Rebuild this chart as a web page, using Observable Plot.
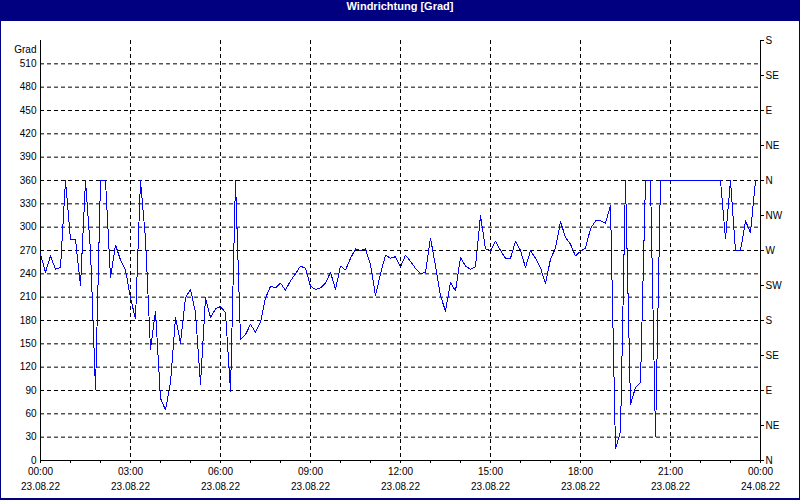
<!DOCTYPE html>
<html><head><meta charset="utf-8">
<script src="https://cdn.jsdelivr.net/npm/d3@7"></script>
<script src="https://cdn.jsdelivr.net/npm/@observablehq/plot@0.6"></script>
<style>
html,body{margin:0;padding:0;background:#fff;}
#frame{position:relative;width:800px;height:500px;background:#000080;overflow:hidden;}
#title{position:absolute;left:0;top:0;width:800px;height:21px;line-height:21px;text-align:center;color:#fff;font:bold 11px "Liberation Sans",Arial,sans-serif;}
#chart{position:absolute;left:1px;top:21px;width:798px;height:477px;background:#fff;}
#chart svg{display:block;}
</style></head><body>
<div id="frame"><div id="title">Windrichtung [Grad]</div><div id="chart"></div></div>
<script>
const title = "Windrichtung [Grad]";
const yLabel = "Grad";
const startISO = "2022-08-23T00:00:00Z";
const endISO = "2022-08-24T00:00:00Z";
const stepMinutes = 10;
const degrees = [
  265,242,263,246,248,360,284,284,225,360,
  270,91,360,360,235,277,258,245,209,182,
  360,285,143,192,80,65,100,184,151,209,
  220,190,98,209,184,195,198,190,89,360,
  156,162,175,165,178,209,224,222,228,219,
  231,240,250,247,224,220,222,228,242,220,
  250,245,260,272,270,272,252,212,240,264,
  260,262,249,264,256,247,240,242,286,250,
  212,192,229,218,261,250,246,249,315,272,
  270,282,270,260,260,282,270,248,270,260,
  248,227,259,273,307,287,278,263,269,273,
  298,308,308,305,328,15,37,360,72,94,
  100,360,360,31,360,360,360,360,360,360,
  360,360,360,360,360,360,360,285,360,270,
  270,308,293,360
];
const yTicks = [0,30,60,90,120,150,180,210,240,270,300,330,360,390,420,450,480,510];
const compassTicks = [0,45,90,135,180,225,270,315,360,405,450,495,540];
const compassLabels = ["N","NE","E","SE","S","SW","W","NW","N","NE","E","SE","S"];
const timeLabels = ["00:00","03:00","06:00","09:00","12:00","15:00","18:00","21:00","00:00"];
const dateLabels = ["23.08.22","23.08.22","23.08.22","23.08.22","23.08.22","23.08.22","23.08.22","23.08.22","24.08.22"];

const start = new Date(startISO);
const end = new Date(endISO);
const data = degrees.map((v, i) => ({t: new Date(start.getTime() + i * stepMinutes * 60000), v}));
const majorTicks = timeLabels.map((_, i) => d3.utcHour.offset(start, i * 3));
const hourTicks = d3.utcHour.range(start, d3.utcHour.offset(end, 1));
const idx = d => Math.round((d - start) / (3 * 3600000));
const dash = "4,3";

const chart = Plot.plot({
  width: 798,
  height: 477,
  marginLeft: 39,
  marginRight: 39,
  marginTop: 19,
  marginBottom: 38,
  style: {fontFamily: "'Liberation Sans', Arial, sans-serif", fontSize: "10px", color: "black", background: "white"},
  x: {type: "utc", domain: [start, end]},
  y: {domain: [0, 540]},
  marks: [
    Plot.gridY(yTicks.filter(d => d > 0), {stroke: "black", strokeOpacity: 1, strokeDasharray: dash}),
    Plot.gridX(majorTicks.slice(1, -1), {stroke: "black", strokeOpacity: 1, strokeDasharray: dash}),
    Plot.ruleX([start, end], {stroke: "black"}),
    Plot.ruleY([0], {stroke: "black"}),
    Plot.axisY(yTicks, {anchor: "left", tickSize: 0, tickPadding: 4, label: null}),
    Plot.axisY(compassTicks, {anchor: "right", tickSize: 3, tickPadding: 2, label: null,
      tickFormat: d => compassLabels[compassTicks.indexOf(d)]}),
    Plot.axisX(hourTicks, {anchor: "bottom", tickSize: 3, tickFormat: () => "", label: null}),
    Plot.axisX(majorTicks, {anchor: "bottom", tickSize: 0, tickPadding: 7, label: null,
      tickFormat: d => timeLabels[idx(d)]}),
    Plot.axisX(majorTicks, {anchor: "bottom", tickSize: 0, tickPadding: 22, label: null,
      tickFormat: d => dateLabels[idx(d)]}),
    Plot.text([yLabel], {text: d => d, frameAnchor: "top-left", dx: -4, dy: 5, textAnchor: "end", fill: "black"}),
    Plot.line(data, {x: "t", y: "v", stroke: "#0000ff", strokeWidth: 1, shapeRendering: "crispEdges"})
  ]
});
document.getElementById("chart").appendChild(chart);
</script>
</body></html>
